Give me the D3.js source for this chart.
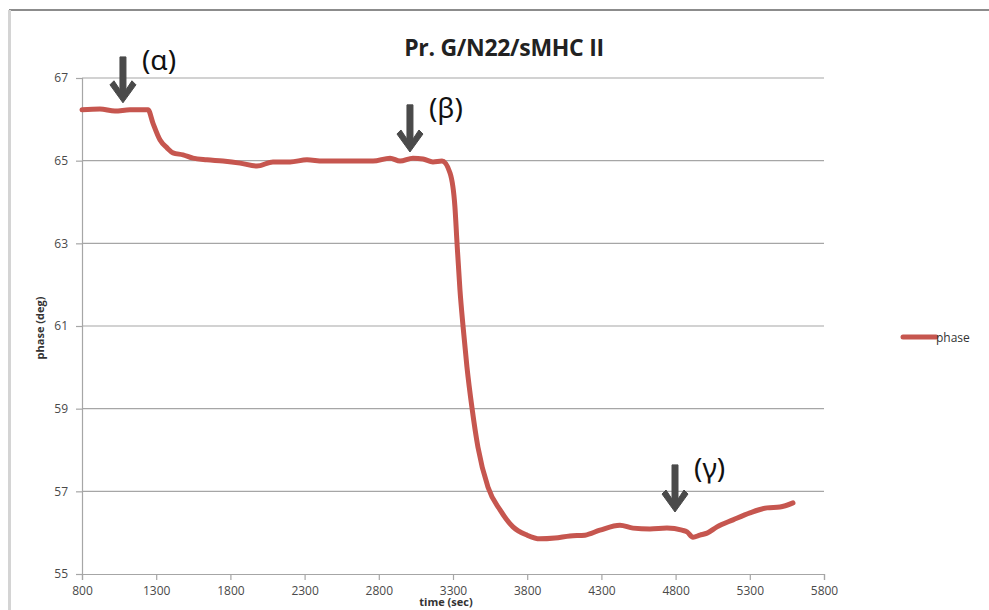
<!DOCTYPE html>
<html>
<head>
<meta charset="utf-8">
<script src="https://cdn.jsdelivr.net/npm/d3@7"></script>
<style>
  html, body { margin: 0; padding: 0; background: #fff; }
  svg { display: block; }
  text { font-family: "Open Sans", "Noto Sans", sans-serif; }
</style>
</head>
<body>
<svg id="chart" width="989" height="610"></svg>
<script>
// Phase trace of the sensor (time in seconds, phase in degrees)
const timeSec = [800, 921, 1022, 1123, 1245, 1278, 1326, 1373, 1413, 1481, 1548, 1642, 1750,
  1865, 1979, 2087, 2202, 2316, 2424, 2539, 2653, 2761, 2876, 2943, 3030, 3098, 3165, 3226,
  3280, 3313, 3327, 3347, 3367, 3394, 3428, 3468, 3536, 3617, 3704, 3799, 3886, 3987, 4088,
  4189, 4290, 4425, 4513, 4627, 4742, 4843, 4877, 4917, 4964, 5012, 5079, 5187, 5301, 5416,
  5503, 5591];
const phaseDeg = [66.23, 66.25, 66.20, 66.23, 66.23, 65.91, 65.50, 65.31, 65.19, 65.14, 65.06,
  65.02, 64.99, 64.94, 64.87, 64.97, 64.97, 65.02, 64.99, 64.99, 64.99, 64.99, 65.06, 64.99,
  65.06, 65.04, 64.97, 64.99, 64.70, 63.88, 63.01, 61.87, 61.02, 60.01, 59.02, 58.07, 57.10,
  56.55, 56.14, 55.94, 55.85, 55.87, 55.92, 55.94, 56.06, 56.18, 56.11, 56.09, 56.11, 56.06,
  56.02, 55.89, 55.94, 55.99, 56.14, 56.31, 56.48, 56.60, 56.62, 56.72];

const xTicks = [800, 1300, 1800, 2300, 2800, 3300, 3800, 4300, 4800, 5300, 5800];
const yTicks = [55, 57, 59, 61, 63, 65, 67];

// Injection markers: label, time, arrow tip and tail (deg)
const markerLabels = ["(α)", "(β)", "(γ)"];
const markerTime = [1076, 3010, 4796];
const markerTip = [66.40, 65.21, 56.50];
const markerTail = [67.51, 66.35, 57.64];

const seriesName = "phase";
const titleText = "Pr. G/N22/sMHC II";

const svg = d3.select("#chart");
const plot = { left: 82, right: 824, top: 78, bottom: 574 };

const x = d3.scaleLinear().domain([800, 5800]).range([plot.left, plot.right]);
const y = d3.scaleLinear().domain([55, 67]).range([plot.bottom, plot.top]);

// outer chart frame
svg.append("line").attr("x1", 9).attr("x2", 989).attr("y1", 10).attr("y2", 10)
  .attr("stroke", "#8c8c8c").attr("stroke-width", 2);
svg.append("line").attr("x1", 9.5).attr("x2", 9.5).attr("y1", 10).attr("y2", 610)
  .attr("stroke", "#d4d4d4").attr("stroke-width", 3);

// horizontal gridlines
svg.append("g").selectAll("line").data(yTicks.filter(d => d !== 55)).join("line")
  .attr("x1", plot.left).attr("x2", plot.right)
  .attr("y1", d => y(d)).attr("y2", d => y(d))
  .attr("stroke", "#a6a6a6").attr("stroke-width", 1.2);

// axes
const xAxis = svg.append("g").attr("transform", `translate(0,${plot.bottom})`)
  .call(d3.axisBottom(x).tickValues(xTicks).tickFormat(d3.format("d")).tickSize(6).tickPadding(6));
const yAxis = svg.append("g").attr("transform", `translate(${plot.left},0)`)
  .call(d3.axisLeft(y).tickValues(yTicks).tickFormat(d3.format("d")).tickSize(6).tickPadding(8));
[xAxis, yAxis].forEach(g => {
  g.select(".domain").attr("stroke", "#a6a6a6").attr("stroke-width", 1.2);
  g.selectAll(".tick line").attr("stroke", "#a6a6a6").attr("stroke-width", 1.2);
  g.selectAll(".tick text").attr("fill", "#4a4a4a").style("font-size", "12px")
    .style("font-family", "'Open Sans', sans-serif");
});

// data line
const pts = timeSec.map((t, i) => [t, phaseDeg[i]]);
svg.append("path").datum(pts)
  .attr("fill", "none").attr("stroke", "#c6564f").attr("stroke-width", 5)
  .attr("stroke-linejoin", "round").attr("stroke-linecap", "round")
  .attr("d", d3.line().x(d => x(d[0])).y(d => y(d[1])).curve(d3.curveMonotoneX));

// title
svg.append("text").attr("x", 504).attr("y", 56).attr("text-anchor", "middle")
  .style("font-size", "23px").style("font-weight", "bold").attr("fill", "#222")
  .style("letter-spacing", "-0.3px")
  .text(titleText);

// axis titles
svg.append("text").attr("x", 446).attr("y", 606).attr("text-anchor", "middle")
  .style("font-size", "11px").style("font-weight", "bold").attr("fill", "#333")
  .text("time (sec)");
svg.append("text").attr("transform", "translate(44,328) rotate(-90)").attr("text-anchor", "middle")
  .style("font-size", "11px").style("font-weight", "bold").attr("fill", "#333")
  .text("phase (deg)");

// legend
svg.append("line").attr("x1", 903).attr("x2", 936).attr("y1", 337).attr("y2", 337)
  .attr("stroke", "#c6564f").attr("stroke-width", 5).attr("stroke-linecap", "round");
svg.append("text").attr("x", 936).attr("y", 342).style("font-size", "12px").attr("fill", "#333")
  .text(seriesName);

// marker arrows with labels
const arrowColor = "#4a4a4a";
markerLabels.forEach((lab, i) => {
  const ax = x(markerTime[i]);
  const tipY = y(markerTip[i]);
  const tailY = y(markerTail[i]);
  const p = [
    [ax - 3, tailY], [ax + 3, tailY], [ax + 3, tipY - 13], [ax + 9, tipY - 22],
    [ax + 13, tipY - 18], [ax, tipY], [ax - 13, tipY - 18], [ax - 9, tipY - 22],
    [ax - 3, tipY - 13]
  ];
  svg.append("path").attr("d", "M" + p.map(q => q.join(",")).join("L") + "Z")
    .attr("fill", arrowColor).attr("stroke", arrowColor).attr("stroke-width", 1)
    .attr("stroke-linejoin", "round");
  svg.append("text").attr("x", ax + 19).attr("y", tailY + 13)
    .style("font-size", "28px").style("font-family", "'Noto Sans', sans-serif")
    .attr("fill", "#111").text(lab);
});
</script>
</body>
</html>
